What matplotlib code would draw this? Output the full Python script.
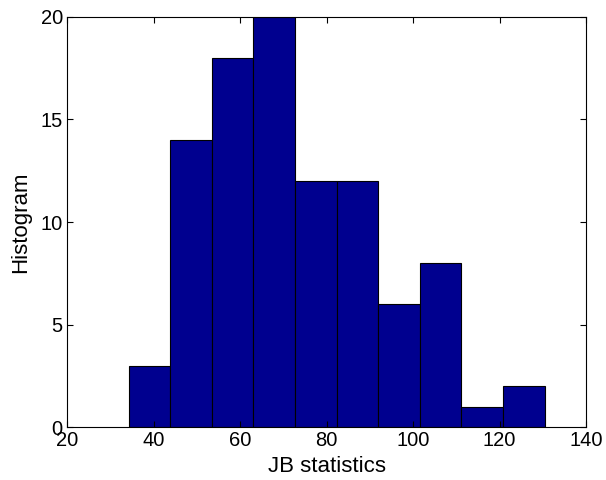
import matplotlib
matplotlib.use("Agg")
import matplotlib.pyplot as plt
import numpy as np

plt.rcParams['font.family'] = ['Liberation Sans', 'DejaVu Sans']

# Histogram bin edges (JB statistic) and counts
bin_edges = [34.3, 43.9, 53.5, 63.1, 72.7, 82.4, 92.0, 101.6, 111.2, 120.8, 130.5]
counts = [3, 14, 18, 20, 12, 12, 6, 8, 1, 2]
x_ticks = [20, 40, 60, 80, 100, 120, 140]
y_ticks = [0, 5, 10, 15, 20]

fig = plt.figure(figsize=(6.06, 4.80), dpi=100)
ax = fig.add_axes([0.1106, 0.110, 0.8564, 0.855])

edges = np.array(bin_edges)
ax.bar(edges[:-1], counts, width=np.diff(edges), align='edge',
       color='#00008F', edgecolor='black', linewidth=0.8)

ax.set_xlim(20, 140)
ax.set_ylim(0, 20)
ax.set_xticks(x_ticks)
ax.set_yticks(y_ticks)
ax.tick_params(direction='in', top=True, right=True, labelsize=14.5, length=4, pad=3)
for s in ax.spines.values():
    s.set_linewidth(0.8)
ax.set_xlabel('JB statistics', fontsize=16, labelpad=4)
ax.set_ylabel('Histogram', fontsize=16, labelpad=7)

fig.savefig('out.png', dpi=100)
